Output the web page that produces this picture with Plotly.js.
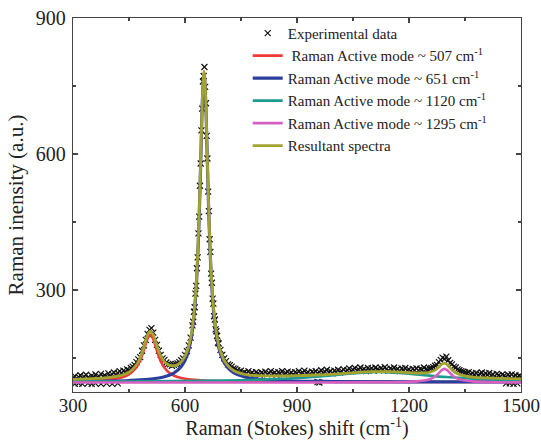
<!DOCTYPE html>
<html>
<head>
<meta charset="utf-8">
<script src="https://cdn.plot.ly/plotly-3.0.1.min.js"></script>
<style>html,body{margin:0;padding:0;background:#fff;}#chart{width:541px;height:440px;}</style>
</head>
<body>
<div id="chart"></div>
<script>
// Experimental data (Raman shift, intensity)
const dataX = [300,305,310,315,320,325,330,335,340,345,350,355,360,365,370,375,380,385,390,395,400,405,410,415,420,425,430,435,440,445,450,455,460,465,470,475,480,485,490,495,500,505,510,515,520,525,530,535,540,545,550,555,560,565,570,575,580,585,590,595,600,605,610,615,
620,622,624,626,628,630,632,634,636,638,640,642,644,646,648,650,652,654,656,658,660,662,664,666,668,670,672,674,676,678,680,682,684,686,688,
690,695,700,705,710,715,720,725,730,735,740,745,750,755,760,765,770,775,780,785,790,795,800,805,810,815,820,825,830,835,840,845,850,855,860,865,870,875,880,885,890,895,900,905,910,915,920,925,930,935,940,945,950,955,960,965,970,975,980,985,990,995,1000,1005,1010,1015,1020,1025,1030,1035,1040,1045,1050,1055,1060,1065,1070,1075,1080,1085,1090,1095,1100,1105,1110,1115,1120,1125,1130,1135,1140,1145,1150,1155,1160,1165,1170,1175,1180,1185,1190,1195,1200,1205,1210,1215,1220,1225,1230,1235,1240,1245,1250,1255,1260,1265,1270,1275,1280,1285,1290,1295,1300,1305,1310,1315,1320,1325,1330,1335,1340,1345,1350,1355,1360,1365,1370,1375,1380,1385,1390,1395,1400,1405,1410,1415,1420,1425,1430,1435,1440,1445,1450,1455,1460,1465,1470,1475,1480,1485,1490,1495,1500];
const dataY = [106,110,103,108,112,105,109,113,107,104,111,108,114,106,110,115,109,112,107,116,111,114,118,112,117,121,116,122,119,125,123,128,131,135,141,147,152,166,178,190,203,212,216,206,190,179,166,157,149,146,140,137,136,133,135,137,138,141,145,149,157,165,178,195,
222,230,252,262,292,309,348,372,425,462,530,579,652,700,760,772,792,748,712,640,590,517,474,412,384,336,316,281,270,242,235,213,209,199,184,
182,168,157,149,143,136,134,131,127,126,123,120,122,117,119,116,121,115,118,114,119,116,113,118,115,120,114,117,121,115,118,113,119,116,121,114,117,120,115,118,113,119,116,121,115,118,122,116,119,114,120,117,121,116,119,123,117,120,124,118,121,116,122,119,124,118,121,125,120,123,127,121,124,128,122,125,129,123,126,121,128,124,127,122,129,125,123,128,124,130,126,122,127,124,129,123,126,121,127,124,128,122,125,121,126,123,127,122,126,124,129,125,124,127,128,130,133,135,141,146,151,148,153,145,139,136,131,129,125,123,121,120,118,117,119,114,116,113,117,112,115,118,112,116,113,117,111,114,110,115,112,109,114,111,108,113,110,114,109,112,108,111,109];
// sparse low experimental points near the baseline
const lowX = [305,315,325,340,350,360,375,390,405,420,955,960,1460,1470,1480,1490];
const lowY = [93,94,93,94,93,94,93,94,93,94,97,96,94,94,93,94];

// Fitted component: ~507 cm-1
const redX = [300,350,400,430,450,470,480,490,500,507,515,525,535,545,560,580,610,650,700,800,1000,1500];
const redY = [98.5,99.6,102.4,106.9,113.8,129.6,145,168.1,193.5,201,191.4,165.5,143.1,128.4,115.9,107.9,102.8,100.1,98.7,97.8,97.3,97.1];
// Fitted component: ~651 cm-1
const blueX = [300,400,450,500,540,570,590,605,615,625,632,638,643,647,651,655,659,664,670,677,687,697,712,730,760,800,900,1000,1200,1500];
const blueY = [98.1,99.1,100.3,102.8,107.6,116.7,131,154.6,186.3,249.8,336.3,462.2,609.5,725.7,777,725.7,609.5,462.2,336.3,249.8,186.3,154.6,131,117.7,108,102.9,99.1,98.1,97.4,97.2];
// Fitted component: ~1120 cm-1
const tealX = [300,500,700,800,900,1000,1050,1100,1120,1150,1200,1250,1300,1350,1400,1450,1500];
const tealY = [98,98.7,100.4,102.3,105.8,112.2,116.1,118.7,119,118.4,115.4,111.5,108,105.4,103.4,102,101];
// Fitted component: ~1295 cm-1
const pinkX = [300,900,1100,1180,1220,1245,1260,1272,1280,1288,1295,1302,1310,1318,1330,1345,1370,1410,1500];
const pinkY = [96,96.1,96.4,97.1,98.4,100.9,104.5,110.3,116.5,123.2,126,123.2,116.5,110.3,104.5,100.9,98.4,97.1,96.3];
// Resultant spectrum
const resX = [300,350,400,430,450,470,480,490,500,507,515,525,535,545,560,575,590,605,615,625,632,638,643,647,651,655,659,664,670,677,687,697,712,730,760,800,850,900,950,1000,1050,1100,1150,1200,1245,1260,1272,1280,1288,1295,1302,1310,1318,1330,1345,1370,1410,1450,1500];
const resY = [103,104.5,107.5,111.5,118.6,135.2,151.1,174.9,201,209.1,200.3,175.6,154.8,142,133.7,133.8,141.9,163.2,194,256.8,342.8,468.4,615.5,731.5,782.7,731.3,615,467.6,341.5,254.9,191.3,159.5,135.8,122.5,114,111,110.5,111,112.5,114.5,117.4,119.9,119.8,117.5,117.2,119.7,124.5,130.2,136.4,138.7,135.5,128.3,121.7,115.2,110.9,108,106,105,104];

const names = [
  'Experimental data',
  '&#160;Raman Active mode ~ 507 cm<sup>-1</sup>',
  'Raman Active mode ~ 651 cm<sup>-1</sup>',
  'Raman Active mode ~ 1120 cm<sup>-1</sup>',
  'Raman Active mode ~ 1295 cm<sup>-1</sup>',
  'Resultant spectra'
];
const xTicks = [300,600,900,1200,1500];
const yTicks = [300,600,900];

const FONT = 'Liberation Serif';
const markerStyle = {symbol:'x-thin-open', size:6, color:'#111', line:{width:1.2, color:'#111'}};
const traces = [
  {x:dataX, y:dataY, mode:'markers', name:names[0], marker:markerStyle, type:'scatter'},
  {x:lowX, y:lowY, mode:'markers', showlegend:false, marker:markerStyle, type:'scatter', hoverinfo:'skip'},
  {x:redX, y:redY, mode:'lines', name:names[1], line:{color:'#f03a3a', width:2.6, shape:'spline'}, type:'scatter'},
  {x:blueX, y:blueY, mode:'lines', name:names[2], line:{color:'#2d3f9c', width:3.2, shape:'spline'}, type:'scatter'},
  {x:tealX, y:tealY, mode:'lines', name:names[3], line:{color:'#1f9a8e', width:2.6, shape:'spline'}, type:'scatter'},
  {x:pinkX, y:pinkY, mode:'lines', name:names[4], line:{color:'#d65fc2', width:2.6, shape:'spline'}, type:'scatter'},
  {x:resX, y:resY, mode:'lines', name:names[5], line:{color:'#a3a332', width:2.8, shape:'spline'}, type:'scatter'}
];

const axisCommon = {
  showline:true, linecolor:'#444', linewidth:1.3, mirror:'ticks',
  ticks:'inside', ticklen:5, tickwidth:1.2, tickcolor:'#444',
  showgrid:false, zeroline:false, ticklabeloverflow:'allow',
  tickfont:{family:FONT, size:20, color:'#222'}
};
const layout = {
  width:541, height:440,
  margin:{l:73, r:20, t:18, b:48},
  paper_bgcolor:'#fff', plot_bgcolor:'#fff',
  font:{family:FONT, color:'#222'},
  showlegend:true,
  legend:{x:0.39, y:1.003, xanchor:'left', yanchor:'top', bgcolor:'rgba(0,0,0,0)',
          font:{family:FONT, size:15, color:'#222'}, tracegroupgap:0, itemwidth:30},
  xaxis:Object.assign({}, axisCommon, {
    range:[300,1500], tickvals:xTicks, ticktext:xTicks.map(String), ticklabelstandoff:-4,
    tickfont:{family:FONT, size:19, color:'#222'},
    minor:{tickvals:[450,750,1050,1350], ticks:'inside', ticklen:3, tickcolor:'#444'},
    title:{text:'Raman (Stokes) shift (cm<sup>-1</sup>)', font:{family:FONT, size:20, color:'#222'}, standoff:11}
  }),
  yaxis:Object.assign({}, axisCommon, {
    range:[75,900], tickvals:yTicks, ticktext:yTicks.map(String), ticklabelstandoff:2,
    minor:{tickvals:[150,450,750], ticks:'inside', ticklen:3, tickcolor:'#444'},
    title:{text:'Raman inensity (a.u.)', font:{family:FONT, size:21, color:'#222'}, standoff:6}
  })
};
Plotly.newPlot('chart', traces, layout, {displayModeBar:false, staticPlot:true});
</script>
</body>
</html>
